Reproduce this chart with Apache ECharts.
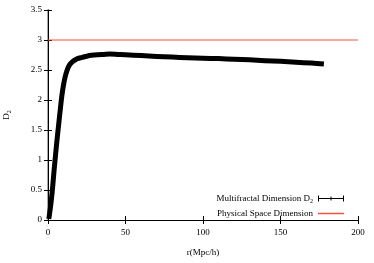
<!DOCTYPE html>
<html>
<head>
<meta charset="utf-8">
<script src="https://cdn.jsdelivr.net/npm/echarts@6/dist/echarts.min.js"></script>
<style>html,body{margin:0;padding:0;background:#fff}#c{width:374px;height:263px}</style>
</head>
<body>
<div id="c"></div>
<script>
const rValues = [0.5,1,2,3,4,5,6,7,8,9,10,11,12,13,14,15,17,19,22,25,28,32,36,40,45,50,60,70,80,90,100,110,120,130,140,150,160,170,178];
const d2Values = [0.02,0.1,0.3,0.55,0.85,1.12,1.38,1.62,1.86,2.08,2.25,2.38,2.47,2.54,2.59,2.62,2.66,2.69,2.71,2.73,2.745,2.755,2.76,2.765,2.76,2.755,2.74,2.725,2.715,2.705,2.695,2.69,2.68,2.67,2.655,2.645,2.63,2.615,2.6];
const physX = [0,200];
const physY = [3,3];
const xTicks = [0,50,100,150,200];
const yTicks = [0,0.5,1,1.5,2,2.5,3,3.5];

const FONT = 'Liberation Serif';
const chart = echarts.init(document.getElementById('c'), null, {renderer:'canvas'});
const tickStyle = {inside:true, length:4, lineStyle:{color:'#000', width:1}};
chart.setOption({
  animation:false,
  grid:{left:48, right:16, top:10, bottom:43, containLabel:false, outerBoundsMode:'none'},
  xAxis:[{
    type:'value', min:xTicks[0], max:xTicks[xTicks.length-1], interval:50,
    name:'r(Mpc/h)', nameLocation:'middle', nameGap:28,
    nameTextStyle:{fontFamily:FONT, fontSize:9, color:'#000'},
    axisLine:{show:true, onZero:false, lineStyle:{color:'#000', width:1}},
    axisTick:tickStyle,
    axisLabel:{fontFamily:FONT, fontSize:9, color:'#000', margin:8},
    splitLine:{show:false}
  },{
    type:'value', position:'top', min:xTicks[0], max:xTicks[xTicks.length-1], interval:50,
    axisLine:{show:true, lineStyle:{color:'#000', width:1}},
    axisTick:tickStyle, axisLabel:{show:false}, splitLine:{show:false}
  }],
  yAxis:[{
    type:'value', min:yTicks[0], max:yTicks[yTicks.length-1], interval:0.5,
    name:'{a|D}{s|2}', nameLocation:'middle', nameGap:36, nameRotate:90,
    nameTextStyle:{fontFamily:FONT, fontSize:9, color:'#000',
      rich:{a:{fontFamily:FONT, fontSize:9, color:'#000'}, s:{fontFamily:FONT, fontSize:6, color:'#000', verticalAlign:'bottom', padding:[4,0,0,0]}}},
    axisLine:{show:true, onZero:false, lineStyle:{color:'#8a8a8a', width:1.5}},
    axisTick:tickStyle,
    axisLabel:{fontFamily:FONT, fontSize:9, color:'#000', margin:6},
    splitLine:{show:false}
  },{
    type:'value', position:'right', min:yTicks[0], max:yTicks[yTicks.length-1], interval:0.5,
    axisLine:{show:true, lineStyle:{color:'#000', width:1}},
    axisTick:tickStyle, axisLabel:{show:false}, splitLine:{show:false}
  }],
  legend:{
    orient:'vertical', right:25, top:189, align:'right',
    itemWidth:26, itemHeight:8, itemGap:5,
    textStyle:{fontFamily:FONT, fontSize:9, color:'#000',
      rich:{a:{fontFamily:FONT, fontSize:9, color:'#000'}, s:{fontFamily:FONT, fontSize:6, color:'#000', verticalAlign:'top', padding:[5,0,0,0]}}},
    formatter:function(n){ return n==='D2' ? '{a|Multifractal Dimension D}{s|2}' : '{a|'+n+'}'; },
    data:[
      {name:'D2', icon:'path://M0,4.5h26v1h-26z M0,2h1v6h-1z M25,2h1v6h-1z M12.5,3h1v4h-1z'},
      {name:'Physical Space Dimension', icon:'path://M0,4h26v1.5h-26z'}
    ]
  },
  series:[{
    name:'Physical Space Dimension', type:'line', xAxisIndex:0, yAxisIndex:0,
    data:physX.map((x,i)=>[x,physY[i]]), showSymbol:false,
    lineStyle:{color:'#f2553a', width:1.2}, itemStyle:{color:'#f2553a'}
  },{
    name:'D2', type:'line', xAxisIndex:0, yAxisIndex:0, clip:true,
    data:rValues.map((x,i)=>[x,d2Values[i]]), showSymbol:false, smooth:0.3,
    lineStyle:{color:'#000', width:5, cap:'butt', join:'round'}, itemStyle:{color:'#000'}, z:3
  }]
});
</script>
</body>
</html>
